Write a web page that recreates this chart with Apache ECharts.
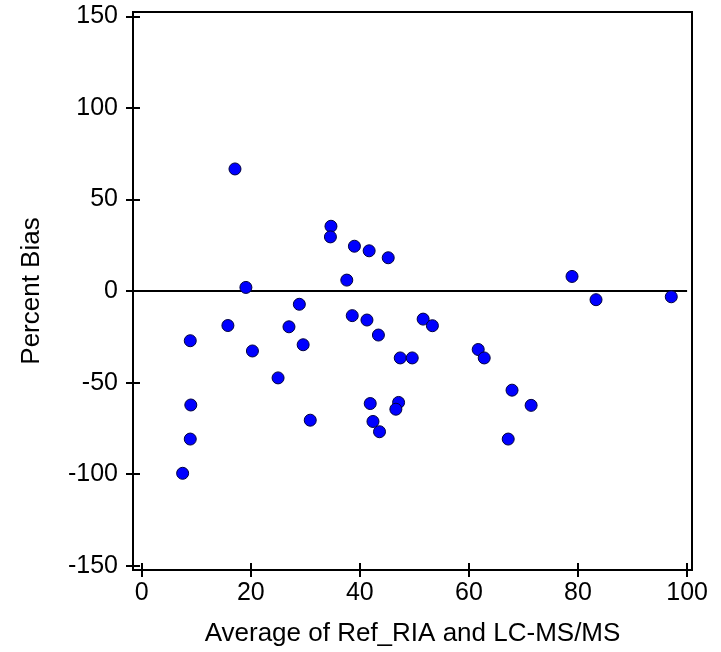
<!DOCTYPE html>
<html>
<head>
<meta charset="utf-8">
<script src="https://cdn.jsdelivr.net/npm/echarts@6/dist/echarts.min.js"></script>
<style>
html, body { margin: 0; padding: 0; background: #fff; }
#main { width: 721px; height: 652px; }
</style>
</head>
<body>
<div id="main"></div>
<script>
// average of the two methods (x) and percent bias (y)
var avgValues = [17.1, 34.7, 34.6, 39.0, 41.7, 45.2, 37.6, 19.1, 78.9, 83.3,
                 97.1, 28.9, 15.8, 27.0, 38.6, 41.3, 43.4, 51.6, 53.3, 8.9,
                 20.3, 29.6, 47.4, 49.6, 61.7, 62.8, 25.0, 9.0, 67.9, 71.4,
                 41.9, 47.1, 46.6, 42.4, 43.6, 30.9, 8.9, 67.2, 7.5];
var biasValues = [66.7, 35.4, 29.6, 24.5, 22.0, 18.2, 6.0, 2.0, 8.0, -4.7,
                  -3.1, -7.2, -18.8, -19.5, -13.4, -15.8, -24.0, -15.3, -18.9, -27.1,
                  -32.7, -29.3, -36.5, -36.5, -31.9, -36.5, -47.4, -62.2, -54.1, -62.4,
                  -61.4, -60.8, -64.5, -71.2, -76.8, -70.5, -80.8, -80.8, -99.5];
var xTicks = [0, 20, 40, 60, 80, 100];
var yTicks = [-150, -100, -50, 0, 50, 100, 150];

var xMin = -1.6, xMax = 100.9;
var yMin = -152.3, yMax = 152.4;

var points = [];
for (var i = 0; i < avgValues.length; i++) {
    points.push([avgValues[i], biasValues[i]]);
}

var myChart = echarts.init(document.getElementById('main'));
var font = 'Liberation Sans, Arial, sans-serif';
var tickStyle = { color: '#000', width: 2 };

myChart.setOption({
    animation: false,
    grid: {
        left: 133, right: 29, top: 12, bottom: 81,
        show: true, borderColor: '#000', borderWidth: 2, backgroundColor: '#fff'
    },
    xAxis: [{
        type: 'value', min: xMin, max: xMax,
        name: 'Average of Ref_RIA and LC-MS/MS',
        nameLocation: 'middle', nameGap: 51,
        nameTextStyle: { fontFamily: font, fontSize: 26, color: '#000' },
        axisLine: { show: true, onZero: false, lineStyle: { color: '#000', width: 2 } },
        axisTick: { show: true, inside: false, length: 7, customValues: xTicks, lineStyle: tickStyle },
        axisLabel: { customValues: xTicks, margin: 11, fontFamily: font, fontSize: 25, color: '#000' },
        splitLine: { show: false }
    }, {
        type: 'value', min: xMin, max: xMax, position: 'bottom',
        axisLine: { show: false, onZero: false },
        axisTick: { show: true, inside: true, length: 7, customValues: xTicks, lineStyle: tickStyle },
        axisLabel: { show: false },
        splitLine: { show: false }
    }],
    yAxis: [{
        type: 'value', min: yMin, max: yMax,
        name: 'Percent Bias',
        nameLocation: 'middle', nameGap: 88,
        nameTextStyle: { fontFamily: font, fontSize: 26, color: '#000' },
        axisLine: { show: true, onZero: false, lineStyle: { color: '#000', width: 2 } },
        axisTick: { show: true, inside: false, length: 7, customValues: yTicks, lineStyle: tickStyle },
        axisLabel: { customValues: yTicks, margin: 15, fontFamily: font, fontSize: 25, color: '#000' },
        splitLine: { show: false }
    }, {
        type: 'value', min: yMin, max: yMax, position: 'left',
        axisLine: { show: false, onZero: false },
        axisTick: { show: true, inside: true, length: 7, customValues: yTicks, lineStyle: tickStyle },
        axisLabel: { show: false },
        splitLine: { show: false }
    }],
    series: [{
        type: 'scatter',
        data: points,
        symbol: 'circle',
        symbolSize: 12,
        itemStyle: { color: '#0000ff', borderColor: '#000040', borderWidth: 1, opacity: 1 },
        markLine: {
            silent: true,
            symbol: 'none',
            label: { show: false },
            lineStyle: { color: '#000', width: 2, type: 'solid' },
            data: [[{ coord: [xMin, 0] }, { coord: [100, 0] }]]
        },
        z: 5
    }]
});
</script>
</body>
</html>
